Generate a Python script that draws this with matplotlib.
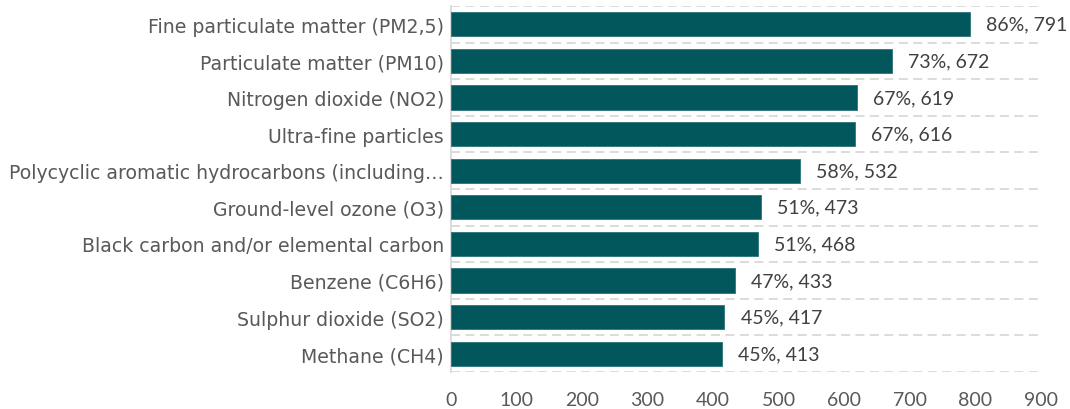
import matplotlib
matplotlib.use("Agg")
import matplotlib.pyplot as plt
import numpy as np

categories = [
    "Fine particulate matter (PM2,5)",
    "Particulate matter (PM10)",
    "Nitrogen dioxide (NO2)",
    "Ultra-fine particles",
    "Polycyclic aromatic hydrocarbons (including…",
    "Ground-level ozone (O3)",
    "Black carbon and/or elemental carbon",
    "Benzene (C6H6)",
    "Sulphur dioxide (SO2)",
    "Methane (CH4)",
]
counts = [791, 672, 619, 616, 532, 473, 468, 433, 417, 413]
percents = [86, 73, 67, 67, 58, 51, 51, 47, 45, 45]
xticks = [0, 100, 200, 300, 400, 500, 600, 700, 800, 900]

plt.rcParams['font.family'] = ['DejaVu Sans']

fig = plt.figure(figsize=(10.7, 4.1), dpi=100)
ax = fig.add_axes([451/1070, 1-373/410, 590/1070, 366/410])

y = np.arange(len(categories))
bar_color = "#02575C"
ax.barh(y, counts, height=0.66, color=bar_color, edgecolor="#2a7579", linewidth=0.6, zorder=3)

num_font = ['Lato', 'DejaVu Sans']
for yi, c, p in zip(y, counts, percents):
    ax.text(c + 25, yi, f"{p}%, {c}", va="center", ha="left", fontsize=14,
            color="#404040", family=num_font)

ax.set_ylim(len(categories) - 0.5, -0.5)
ax.set_xlim(0, 900)
ax.set_xticks(xticks)
ax.set_xticklabels([str(t) for t in xticks], family=num_font, fontsize=14, color="#595959")
ax.set_yticks(y)
ax.set_yticklabels(categories, fontsize=13.6, color="#595959")
ax.set_yticks(np.arange(-0.5, len(categories), 1.0), minor=True)
ax.tick_params(axis='y', which='both', length=0, pad=5)
ax.tick_params(axis='x', length=0, pad=14)
ax.grid(which='minor', axis='y', color="#D9D9D9", linestyle=(0, (5, 3)), linewidth=1.3, zorder=0)
ax.grid(which='major', axis='both', visible=False)
for s in ["top", "right", "bottom"]:
    ax.spines[s].set_visible(False)
ax.spines["left"].set_color("#D9D9D9")
ax.spines["left"].set_linewidth(1.3)

fig.savefig("out.png", dpi=100)
